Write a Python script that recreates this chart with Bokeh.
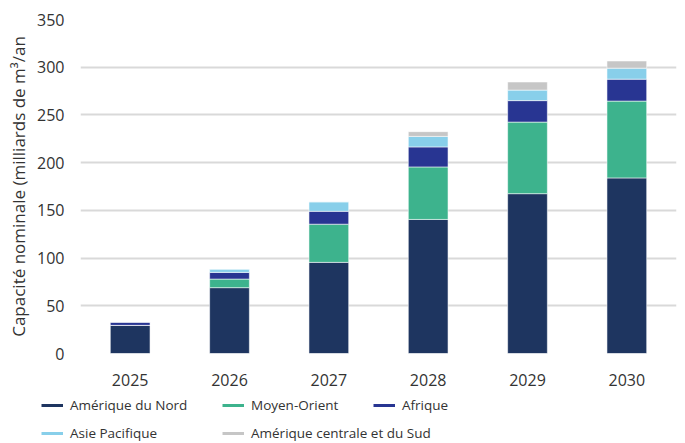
from bokeh.plotting import figure
from bokeh.models import ColumnDataSource, Legend, LegendItem, FactorRange, SingleIntervalTicker
from bokeh.layouts import column
from bokeh.embed import file_html
from bokeh.resources import INLINE

years = ["2025", "2026", "2027", "2028", "2029", "2030"]
amerique_nord = [29.5, 69, 95.5, 140.5, 167.5, 184]
moyen_orient = [0, 9, 40, 55, 75, 80.5]
afrique = [3.5, 7, 13.5, 21, 22.5, 23]
asie_pacifique = [0, 3.5, 10, 11, 11, 11.5]
amerique_centrale_sud = [0, 0, 0, 5, 8.5, 7.5]

series = ["Amérique du Nord", "Moyen-Orient", "Afrique", "Asie Pacifique", "Amérique centrale et du Sud"]
keys = ["an", "mo", "af", "ap", "acs"]
colors = ["#1e3560", "#3db38d", "#283592", "#88cfea", "#c6c6c6"]

source = ColumnDataSource(dict(years=years, an=amerique_nord, mo=moyen_orient, af=afrique,
                               ap=asie_pacifique, acs=amerique_centrale_sud))

FONT = "Open Sans"
TXT = "#333333"

p = figure(x_range=FactorRange(*years), y_range=(0, 350), width=685, height=390,
           output_backend="svg", toolbar_location=None, frame_align=False,
           min_border_left=80, min_border_right=9, min_border_top=19, min_border_bottom=37)
p.outline_line_color = None

p.vbar_stack(keys, x="years", width=0.4, color=colors, source=source,
             line_color="#ffffff", line_alpha=0.55, line_width=1)

p.xgrid.grid_line_color = None
p.ygrid.grid_line_color = "#d9d9d9"
p.ygrid.grid_line_width = 2

p.yaxis.ticker = SingleIntervalTicker(interval=50)
p.yaxis.axis_line_color = None
p.yaxis.major_tick_line_color = None
p.yaxis.minor_tick_line_color = None
p.yaxis.major_label_standoff = 10
p.yaxis.major_label_text_font = FONT
p.yaxis.major_label_text_font_size = "16px"
p.yaxis.major_label_text_color = TXT
p.yaxis.axis_label = "Capacité nominale (milliards de m³/an"
p.yaxis.axis_label_text_font = FONT
p.yaxis.axis_label_text_font_size = "17px"
p.yaxis.axis_label_text_font_style = "normal"
p.yaxis.axis_label_text_color = TXT
p.yaxis.axis_label_standoff = 4

p.xaxis.axis_line_color = None
p.xaxis.major_tick_line_color = None
p.xaxis.minor_tick_line_color = None
p.xaxis.major_label_standoff = 14
p.xaxis.major_label_text_font = FONT
p.xaxis.major_label_text_font_size = "16px"
p.xaxis.major_label_text_color = TXT

# legend figure
lf = figure(width=685, height=53, x_range=(0, 1), y_range=(0, 1),
            output_backend="svg", toolbar_location=None, frame_align=False,
            min_border_left=0, min_border_right=0, min_border_top=0, min_border_bottom=0)
lf.axis.visible = False
lf.grid.visible = False
lf.outline_line_color = None

nan = float("nan")
line_rs = []
for c in colors:
    r = lf.line(x=[nan], y=[nan], line_color=c, line_width=3)
    line_rs.append(r)

positions = [(41, 28), (222, 28), (373, 28), (41, 0), (222, 0)]
for name, r, loc in zip(series, line_rs, positions):
    lg = Legend(items=[LegendItem(label=name, renderers=[r])], location=loc,
                orientation="horizontal", padding=0, margin=0, spacing=0,
                border_line_color=None, background_fill_alpha=0,
                glyph_width=22, glyph_height=20, label_standoff=7, label_height=20,
                label_text_font=FONT, label_text_font_size="13.5px", label_text_color=TXT)
    lf.add_layout(lg, "center")

layout = column(p, lf, spacing=0)
open("out.html", "w").write(file_html(layout, INLINE))
